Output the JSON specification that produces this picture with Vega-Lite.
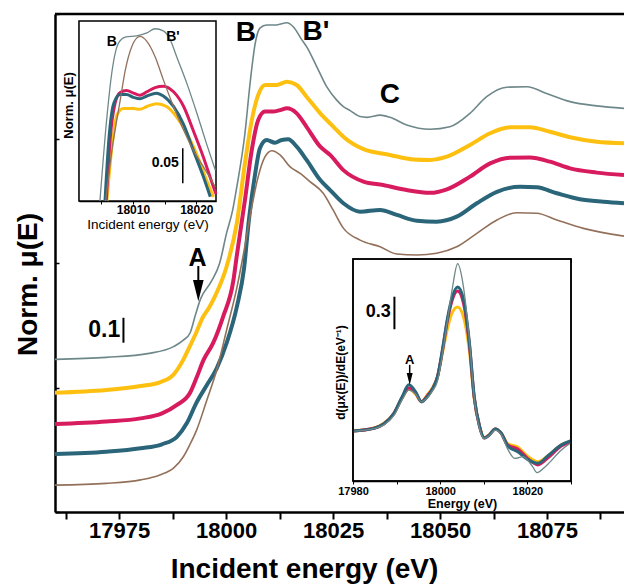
{
  "$schema": "https://vega.github.io/schema/vega-lite/v6.json",
  "width": 569,
  "height": 498,
  "autosize": {"type": "none"},
  "padding": {"left": 55, "top": 14, "right": 0, "bottom": 76},
  "config": {
    "view": {"stroke": null},
    "font": "Liberation Sans",
    "axis": {"grid": false, "zindex": 1, "domainColor": "black", "tickColor": "black", "labelColor": "black", "titleColor": "black", "labelOverlap": false, "labelFlush": false}
  },
  "datasets": {
    "main": [
      {"s":"gray","E":17960,"v":0.613},{"s":"gray","E":17972,"v":0.621},{"s":"gray","E":17982,"v":0.637},{"s":"gray","E":17987.7,"v":0.664},{"s":"gray","E":17990,"v":0.69},{"s":"gray","E":17991.6,"v":0.72},{"s":"gray","E":17992.8,"v":0.79},{"s":"gray","E":17994,"v":0.855},{"s":"gray","E":17996.5,"v":0.925},{"s":"gray","E":17998.5,"v":1.0},{"s":"gray","E":18000.1,"v":1.12},{"s":"gray","E":18001.5,"v":1.21},{"s":"gray","E":18002.5,"v":1.306},{"s":"gray","E":18004.4,"v":1.521},{"s":"gray","E":18005.6,"v":1.722},{"s":"gray","E":18006.8,"v":1.882},{"s":"gray","E":18007.9,"v":1.943},{"s":"gray","E":18009.5,"v":1.956},{"s":"gray","E":18011.8,"v":1.956},{"s":"gray","E":18014.2,"v":1.965},{"s":"gray","E":18015.7,"v":1.949},{"s":"gray","E":18017.7,"v":1.896},{"s":"gray","E":18018.8,"v":1.869},{"s":"gray","E":18021.2,"v":1.788},{"s":"gray","E":18023.5,"v":1.708},{"s":"gray","E":18025.8,"v":1.655},{"s":"gray","E":18027.4,"v":1.628},{"s":"gray","E":18029,"v":1.612},{"s":"gray","E":18031.3,"v":1.588},{"s":"gray","E":18032.9,"v":1.585},{"s":"gray","E":18036,"v":1.594},{"s":"gray","E":18038.3,"v":1.585},{"s":"gray","E":18042.2,"v":1.554},{"s":"gray","E":18047.7,"v":1.537},{"s":"gray","E":18052.3,"v":1.547},{"s":"gray","E":18057,"v":1.601},{"s":"gray","E":18060.9,"v":1.668},{"s":"gray","E":18065.6,"v":1.706},{"s":"gray","E":18070.3,"v":1.708},{"s":"gray","E":18074.9,"v":1.681},{"s":"gray","E":18080.4,"v":1.648},{"s":"gray","E":18086.6,"v":1.631},{"s":"gray","E":18093,"v":1.621},
      {"s":"yellow","E":17960,"v":0.479},{"s":"yellow","E":17972,"v":0.49},{"s":"yellow","E":17980,"v":0.506},{"s":"yellow","E":17984.5,"v":0.521},{"s":"yellow","E":17987.7,"v":0.552},{"s":"yellow","E":17990,"v":0.612},{"s":"yellow","E":17991.5,"v":0.665},{"s":"yellow","E":17993,"v":0.72},{"s":"yellow","E":17994.5,"v":0.78},{"s":"yellow","E":17996,"v":0.82},{"s":"yellow","E":17997.5,"v":0.87},{"s":"yellow","E":18000.1,"v":0.985},{"s":"yellow","E":18002.5,"v":1.16},{"s":"yellow","E":18004.4,"v":1.4},{"s":"yellow","E":18006,"v":1.574},{"s":"yellow","E":18007.5,"v":1.675},{"s":"yellow","E":18009.1,"v":1.715},{"s":"yellow","E":18011.8,"v":1.715},{"s":"yellow","E":18014.2,"v":1.728},{"s":"yellow","E":18016.5,"v":1.715},{"s":"yellow","E":18018.8,"v":1.668},{"s":"yellow","E":18022,"v":1.601},{"s":"yellow","E":18025.1,"v":1.547},{"s":"yellow","E":18027.4,"v":1.507},{"s":"yellow","E":18032.1,"v":1.457},{"s":"yellow","E":18038.3,"v":1.434},{"s":"yellow","E":18043.8,"v":1.416},{"s":"yellow","E":18047.7,"v":1.414},{"s":"yellow","E":18051.6,"v":1.427},{"s":"yellow","E":18057,"v":1.474},{"s":"yellow","E":18061.7,"v":1.521},{"s":"yellow","E":18066.4,"v":1.545},{"s":"yellow","E":18071,"v":1.545},{"s":"yellow","E":18075.7,"v":1.527},{"s":"yellow","E":18080.4,"v":1.505},{"s":"yellow","E":18086.6,"v":1.487},{"s":"yellow","E":18093,"v":1.481},
      {"s":"magenta","E":17960,"v":0.353},{"s":"magenta","E":17972,"v":0.363},{"s":"magenta","E":17980,"v":0.376},{"s":"magenta","E":17985,"v":0.396},{"s":"magenta","E":17988.5,"v":0.43},{"s":"magenta","E":17991.6,"v":0.48},{"s":"magenta","E":17993.1,"v":0.54},{"s":"magenta","E":17994.7,"v":0.61},{"s":"magenta","E":17997,"v":0.68},{"s":"magenta","E":17999.3,"v":0.785},{"s":"magenta","E":18001.7,"v":0.93},{"s":"magenta","E":18002.5,"v":1.03},{"s":"magenta","E":18004.4,"v":1.253},{"s":"magenta","E":18006,"v":1.454},{"s":"magenta","E":18007.5,"v":1.574},{"s":"magenta","E":18009.1,"v":1.608},{"s":"magenta","E":18011,"v":1.608},{"s":"magenta","E":18012.6,"v":1.614},{"s":"magenta","E":18014.2,"v":1.621},{"s":"magenta","E":18016.5,"v":1.601},{"s":"magenta","E":18018.8,"v":1.547},{"s":"magenta","E":18022,"v":1.467},{"s":"magenta","E":18024.3,"v":1.434},{"s":"magenta","E":18027.4,"v":1.373},{"s":"magenta","E":18032.1,"v":1.327},{"s":"magenta","E":18036.7,"v":1.313},{"s":"magenta","E":18042.2,"v":1.293},{"s":"magenta","E":18047.7,"v":1.282},{"s":"magenta","E":18051.6,"v":1.296},{"s":"magenta","E":18057,"v":1.347},{"s":"magenta","E":18061.7,"v":1.4},{"s":"magenta","E":18066.4,"v":1.423},{"s":"magenta","E":18071,"v":1.424},{"s":"magenta","E":18075.7,"v":1.407},{"s":"magenta","E":18080.4,"v":1.38},{"s":"magenta","E":18086.6,"v":1.363},{"s":"magenta","E":18093,"v":1.353},
      {"s":"teal","E":17960,"v":0.233},{"s":"teal","E":17972,"v":0.242},{"s":"teal","E":17980,"v":0.256},{"s":"teal","E":17985,"v":0.272},{"s":"teal","E":17988.5,"v":0.302},{"s":"teal","E":17990.8,"v":0.356},{"s":"teal","E":17993.1,"v":0.44},{"s":"teal","E":17995.5,"v":0.51},{"s":"teal","E":17997.8,"v":0.577},{"s":"teal","E":18000.1,"v":0.678},{"s":"teal","E":18002.5,"v":0.824},{"s":"teal","E":18004.2,"v":0.98},{"s":"teal","E":18005.3,"v":1.17},{"s":"teal","E":18006.8,"v":1.36},{"s":"teal","E":18007.9,"v":1.461},{"s":"teal","E":18009.5,"v":1.494},{"s":"teal","E":18011.4,"v":1.483},{"s":"teal","E":18013,"v":1.494},{"s":"teal","E":18014.5,"v":1.497},{"s":"teal","E":18016.5,"v":1.467},{"s":"teal","E":18018.8,"v":1.414},{"s":"teal","E":18022,"v":1.333},{"s":"teal","E":18024.3,"v":1.293},{"s":"teal","E":18027.4,"v":1.24},{"s":"teal","E":18031.3,"v":1.206},{"s":"teal","E":18036,"v":1.213},{"s":"teal","E":18039.9,"v":1.193},{"s":"teal","E":18044.6,"v":1.17},{"s":"teal","E":18049.2,"v":1.166},{"s":"teal","E":18053.9,"v":1.186},{"s":"teal","E":18058.6,"v":1.24},{"s":"teal","E":18063.3,"v":1.286},{"s":"teal","E":18068.7,"v":1.306},{"s":"teal","E":18072.6,"v":1.304},{"s":"teal","E":18077.3,"v":1.28},{"s":"teal","E":18082.7,"v":1.256},{"s":"teal","E":18088.2,"v":1.246},{"s":"teal","E":18093,"v":1.24},
      {"s":"brown","E":17960,"v":0.108},{"s":"brown","E":17972,"v":0.115},{"s":"brown","E":17980,"v":0.129},{"s":"brown","E":17984.5,"v":0.149},{"s":"brown","E":17987.7,"v":0.176},{"s":"brown","E":17990,"v":0.222},{"s":"brown","E":17991.5,"v":0.27},{"s":"brown","E":17993.1,"v":0.329},{"s":"brown","E":17995.5,"v":0.45},{"s":"brown","E":17997.8,"v":0.57},{"s":"brown","E":18000.1,"v":0.73},{"s":"brown","E":18002.5,"v":0.9},{"s":"brown","E":18004.2,"v":1.05},{"s":"brown","E":18006,"v":1.226},{"s":"brown","E":18007.5,"v":1.347},{"s":"brown","E":18009.1,"v":1.427},{"s":"brown","E":18010.7,"v":1.451},{"s":"brown","E":18012.6,"v":1.434},{"s":"brown","E":18014.9,"v":1.387},{"s":"brown","E":18017.3,"v":1.36},{"s":"brown","E":18019.6,"v":1.327},{"s":"brown","E":18022.7,"v":1.28},{"s":"brown","E":18025,"v":1.213},{"s":"brown","E":18027.4,"v":1.14},{"s":"brown","E":18031.3,"v":1.092},{"s":"brown","E":18036,"v":1.065},{"s":"brown","E":18039.9,"v":1.036},{"s":"brown","E":18044.6,"v":1.032},{"s":"brown","E":18049.2,"v":1.039},{"s":"brown","E":18053.9,"v":1.065},{"s":"brown","E":18058.6,"v":1.119},{"s":"brown","E":18063.3,"v":1.173},{"s":"brown","E":18067.9,"v":1.202},{"s":"brown","E":18072.6,"v":1.2},{"s":"brown","E":18077.3,"v":1.173},{"s":"brown","E":18083.5,"v":1.139},{"s":"brown","E":18093,"v":1.108}
    ],
    "zoom": [
      {"s":"gray","E":18004.8,"v":0},{"s":"gray","E":18005.9,"v":0.12},{"s":"gray","E":18006.7,"v":0.185},{"s":"gray","E":18007.7,"v":0.225},{"s":"gray","E":18008.8,"v":0.234},{"s":"gray","E":18010.6,"v":0.236},{"s":"gray","E":18012.2,"v":0.24},{"s":"gray","E":18013.5,"v":0.246},{"s":"gray","E":18014.8,"v":0.243},{"s":"gray","E":18015.9,"v":0.23},{"s":"gray","E":18016.9,"v":0.206},{"s":"gray","E":18018.5,"v":0.168},{"s":"gray","E":18020.1,"v":0.125},{"s":"gray","E":18021.6,"v":0.082},{"s":"gray","E":18023,"v":0.044},
      {"s":"brown","E":18005.7,"v":0},{"s":"brown","E":18006.7,"v":0.073},{"s":"brown","E":18008,"v":0.144},{"s":"brown","E":18008.8,"v":0.187},{"s":"brown","E":18009.8,"v":0.22},{"s":"brown","E":18011.1,"v":0.235},{"s":"brown","E":18012.2,"v":0.228},{"s":"brown","E":18013.5,"v":0.206},{"s":"brown","E":18014.8,"v":0.173},{"s":"brown","E":18016.4,"v":0.135},{"s":"brown","E":18018,"v":0.101},{"s":"brown","E":18019.5,"v":0.073},{"s":"brown","E":18021.1,"v":0.049},{"s":"brown","E":18023,"v":0.02},
      {"s":"yellow","E":18005.9,"v":0},{"s":"yellow","E":18006.7,"v":0.078},{"s":"yellow","E":18007.5,"v":0.123},{"s":"yellow","E":18008.5,"v":0.132},{"s":"yellow","E":18010.1,"v":0.132},{"s":"yellow","E":18011.1,"v":0.131},{"s":"yellow","E":18012.2,"v":0.135},{"s":"yellow","E":18013.8,"v":0.139},{"s":"yellow","E":18015.3,"v":0.135},{"s":"yellow","E":18016.9,"v":0.12},{"s":"yellow","E":18018.5,"v":0.097},{"s":"yellow","E":18020.1,"v":0.066},{"s":"yellow","E":18021.6,"v":0.03},{"s":"yellow","E":18022.7,"v":0.006},
      {"s":"magenta","E":18005.8,"v":0},{"s":"magenta","E":18006.4,"v":0.087},{"s":"magenta","E":18007.2,"v":0.14},{"s":"magenta","E":18008,"v":0.155},{"s":"magenta","E":18009,"v":0.158},{"s":"magenta","E":18010.1,"v":0.154},{"s":"magenta","E":18011.1,"v":0.151},{"s":"magenta","E":18012.2,"v":0.156},{"s":"magenta","E":18013.5,"v":0.162},{"s":"magenta","E":18014.8,"v":0.164},{"s":"magenta","E":18016.4,"v":0.156},{"s":"magenta","E":18018,"v":0.135},{"s":"magenta","E":18019.5,"v":0.101},{"s":"magenta","E":18021.1,"v":0.063},{"s":"magenta","E":18022.7,"v":0.02},{"s":"magenta","E":18023.1,"v":0.01},
      {"s":"teal","E":18005.6,"v":0},{"s":"teal","E":18006.2,"v":0.087},{"s":"teal","E":18007,"v":0.14},{"s":"teal","E":18008,"v":0.152},{"s":"teal","E":18009,"v":0.152},{"s":"teal","E":18010.1,"v":0.148},{"s":"teal","E":18011.1,"v":0.146},{"s":"teal","E":18012.2,"v":0.15},{"s":"teal","E":18013.7,"v":0.154},{"s":"teal","E":18014.8,"v":0.15},{"s":"teal","E":18016.4,"v":0.135},{"s":"teal","E":18018,"v":0.109},{"s":"teal","E":18019.5,"v":0.073},{"s":"teal","E":18021.1,"v":0.035},{"s":"teal","E":18022.2,"v":0.006}
    ],
    "deriv": [
      {"s":"yellow","E":17980,"v":0.022},{"s":"yellow","E":17984.8,"v":0.05},{"s":"yellow","E":17987.1,"v":0.095},{"s":"yellow","E":17989.4,"v":0.19},{"s":"yellow","E":17991.3,"v":0.34},{"s":"yellow","E":17992.8,"v":0.42},{"s":"yellow","E":17994.4,"v":0.37},{"s":"yellow","E":17995.7,"v":0.3},{"s":"yellow","E":17997.1,"v":0.37},{"s":"yellow","E":17998.2,"v":0.43},{"s":"yellow","E":17999.4,"v":0.54},{"s":"yellow","E":18000.5,"v":0.76},{"s":"yellow","E":18001.7,"v":1.0},{"s":"yellow","E":18002.8,"v":1.15},{"s":"yellow","E":18004,"v":1.2},{"s":"yellow","E":18005.3,"v":1.11},{"s":"yellow","E":18006.7,"v":0.78},{"s":"yellow","E":18007.8,"v":0.33},{"s":"yellow","E":18009,"v":0.07},{"s":"yellow","E":18010.1,"v":-0.04},{"s":"yellow","E":18011.3,"v":-0.01},{"s":"yellow","E":18012.6,"v":0.04},{"s":"yellow","E":18014,"v":0.0},{"s":"yellow","E":18015.5,"v":-0.1},{"s":"yellow","E":18017.8,"v":-0.13},{"s":"yellow","E":18020.1,"v":-0.22},{"s":"yellow","E":18022.4,"v":-0.27},{"s":"yellow","E":18024.8,"v":-0.21},{"s":"yellow","E":18027.8,"v":-0.11},{"s":"yellow","E":18030,"v":-0.075},
      {"s":"magenta","E":17980,"v":0.022},{"s":"magenta","E":17984.8,"v":0.048},{"s":"magenta","E":17987.1,"v":0.09},{"s":"magenta","E":17989.4,"v":0.19},{"s":"magenta","E":17991.3,"v":0.34},{"s":"magenta","E":17992.8,"v":0.43},{"s":"magenta","E":17994.4,"v":0.38},{"s":"magenta","E":17995.7,"v":0.3},{"s":"magenta","E":17997.1,"v":0.36},{"s":"magenta","E":17998.2,"v":0.42},{"s":"magenta","E":17999.4,"v":0.54},{"s":"magenta","E":18000.5,"v":0.78},{"s":"magenta","E":18001.7,"v":1.08},{"s":"magenta","E":18002.8,"v":1.27},{"s":"magenta","E":18004,"v":1.35},{"s":"magenta","E":18005.3,"v":1.24},{"s":"magenta","E":18006.7,"v":0.84},{"s":"magenta","E":18007.8,"v":0.34},{"s":"magenta","E":18009,"v":0.07},{"s":"magenta","E":18010.1,"v":-0.045},{"s":"magenta","E":18011.3,"v":-0.015},{"s":"magenta","E":18012.6,"v":0.04},{"s":"magenta","E":18014,"v":0.0},{"s":"magenta","E":18015.5,"v":-0.11},{"s":"magenta","E":18017.8,"v":-0.15},{"s":"magenta","E":18020.1,"v":-0.24},{"s":"magenta","E":18022.4,"v":-0.3},{"s":"magenta","E":18024.8,"v":-0.23},{"s":"magenta","E":18027.8,"v":-0.12},{"s":"magenta","E":18030,"v":-0.08},
      {"s":"teal","E":17980,"v":0.022},{"s":"teal","E":17984.8,"v":0.047},{"s":"teal","E":17987.1,"v":0.09},{"s":"teal","E":17989.4,"v":0.19},{"s":"teal","E":17991.3,"v":0.35},{"s":"teal","E":17992.8,"v":0.46},{"s":"teal","E":17994.4,"v":0.39},{"s":"teal","E":17995.7,"v":0.3},{"s":"teal","E":17997.1,"v":0.35},{"s":"teal","E":17998.2,"v":0.42},{"s":"teal","E":17999.4,"v":0.54},{"s":"teal","E":18000.5,"v":0.79},{"s":"teal","E":18001.7,"v":1.1},{"s":"teal","E":18002.8,"v":1.3},{"s":"teal","E":18004,"v":1.39},{"s":"teal","E":18005.3,"v":1.28},{"s":"teal","E":18006.7,"v":0.86},{"s":"teal","E":18007.8,"v":0.35},{"s":"teal","E":18009,"v":0.07},{"s":"teal","E":18010.1,"v":-0.045},{"s":"teal","E":18011.3,"v":-0.015},{"s":"teal","E":18012.6,"v":0.04},{"s":"teal","E":18014,"v":0.0},{"s":"teal","E":18015.5,"v":-0.12},{"s":"teal","E":18017.8,"v":-0.175},{"s":"teal","E":18020.1,"v":-0.25},{"s":"teal","E":18022.4,"v":-0.285},{"s":"teal","E":18024.8,"v":-0.21},{"s":"teal","E":18027.8,"v":-0.11},{"s":"teal","E":18030,"v":-0.07},
      {"s":"gray","E":17980,"v":0.02},{"s":"gray","E":17984.8,"v":0.045},{"s":"gray","E":17987.1,"v":0.08},{"s":"gray","E":17989.4,"v":0.17},{"s":"gray","E":17991.3,"v":0.32},{"s":"gray","E":17992.8,"v":0.41},{"s":"gray","E":17994.4,"v":0.37},{"s":"gray","E":17995.7,"v":0.3},{"s":"gray","E":17997.1,"v":0.34},{"s":"gray","E":17998.2,"v":0.4},{"s":"gray","E":17999.4,"v":0.5},{"s":"gray","E":18000.5,"v":0.75},{"s":"gray","E":18001.7,"v":1.08},{"s":"gray","E":18002.8,"v":1.38},{"s":"gray","E":18004,"v":1.61},{"s":"gray","E":18005.3,"v":1.4},{"s":"gray","E":18006.7,"v":0.88},{"s":"gray","E":18007.8,"v":0.34},{"s":"gray","E":18009,"v":0.05},{"s":"gray","E":18010.1,"v":-0.05},{"s":"gray","E":18011.3,"v":-0.02},{"s":"gray","E":18012.6,"v":0.03},{"s":"gray","E":18014,"v":-0.01},{"s":"gray","E":18015.4,"v":-0.143},{"s":"gray","E":18017.1,"v":-0.238},{"s":"gray","E":18019,"v":-0.222},{"s":"gray","E":18021.2,"v":-0.317},{"s":"gray","E":18022.2,"v":-0.374},{"s":"gray","E":18024.1,"v":-0.317},{"s":"gray","E":18027.8,"v":-0.159},{"s":"gray","E":18030,"v":-0.09}
    ]
  },
  "layer": [
    {
      "data": {"name": "main"},
      "layer": [
        {
          "mark": {"type": "line", "interpolate": "monotone", "strokeWidth": 4},
          "transform": [{"filter": "datum.s != 'gray' && datum.s != 'brown'"}],
          "encoding": {
            "x": {"field": "E", "type": "quantitative", "scale": {"domain": [17960, 18093], "nice": false, "zero": false},
              "axis": {"orient": "bottom", "values": [17962.5,17975,17987.5,18000,18012.5,18025,18037.5,18050,18062.5,18075,18087.5], "format": "d", "labelExpr": "datum.value % 25 === 0 ? datum.label : ''", "labelFontSize": 22, "labelFontWeight": "bold", "labelPadding": 1, "tickSize": 7, "tickWidth": 2, "domainWidth": 2.5, "title": "Incident energy (eV)", "titleFontSize": 28, "titleFontWeight": "bold", "titleX": 249, "titleY": 65, "titleAlign": "center", "titleBaseline": "alphabetic"}},
            "y": {"field": "v", "type": "quantitative", "scale": {"domain": [0, 2], "nice": false, "zero": false},
              "axis": {"orient": "left", "values": [0, 0.5, 1, 1.5, 2], "labels": false, "tickSize": -4, "tickWidth": 1.5, "domainWidth": 2.5, "title": "Norm. μ(E)", "titleFontSize": 28, "titleFontWeight": "bold", "titleAngle": 270, "titleX": -27, "titleY": 270, "titleAlign": "center", "titleBaseline": "middle"}},
            "color": {"field": "s", "type": "nominal", "scale": {"domain": ["gray", "yellow", "magenta", "teal", "brown"], "range": ["#6E8789", "#FDC010", "#D81B5E", "#2A6579", "#93705A"]}, "legend": null}
          }
        },
        {
          "mark": {"type": "line", "interpolate": "monotone", "strokeWidth": 1.6},
          "transform": [{"filter": "datum.s == 'gray' || datum.s == 'brown'"}],
          "encoding": {
            "x": {"field": "E", "type": "quantitative"},
            "y": {"field": "v", "type": "quantitative"},
            "color": {"field": "s", "type": "nominal", "legend": null}
          }
        },
        {"data": {"values": [{}]}, "mark": {"type": "rule", "strokeWidth": 2.5, "color": "black"}, "encoding": {"y": {"datum": 2}}},
        {"data": {"values": [{}]}, "mark": {"type": "text", "fontSize": 28, "fontWeight": "bold", "baseline": "middle", "align": "center", "color": "black"}, "encoding": {"x": {"datum": 18004.6}, "y": {"datum": 1.922}, "text": {"value": "B"}}},
        {"data": {"values": [{}]}, "mark": {"type": "text", "fontSize": 28, "fontWeight": "bold", "baseline": "middle", "align": "center", "color": "black"}, "encoding": {"x": {"datum": 18021.0}, "y": {"datum": 1.929}, "text": {"value": "B'"}}},
        {"data": {"values": [{}]}, "mark": {"type": "text", "fontSize": 28, "fontWeight": "bold", "baseline": "middle", "align": "center", "color": "black"}, "encoding": {"x": {"datum": 18038.3}, "y": {"datum": 1.673}, "text": {"value": "C"}}},
        {"data": {"values": [{}]}, "mark": {"type": "text", "fontSize": 25, "fontWeight": "bold", "baseline": "middle", "align": "center", "color": "black"}, "encoding": {"x": {"datum": 17993.3}, "y": {"datum": 1.02}, "text": {"value": "A"}}},
        {"data": {"values": [{}]}, "mark": {"type": "rule", "strokeWidth": 2, "color": "black"}, "encoding": {"x": {"datum": 17993.5}, "y": {"datum": 0.988}, "y2": {"datum": 0.9}}},
        {"data": {"values": [{}]}, "mark": {"type": "point", "shape": "M-0.5,-1L0.5,-1L0,1Z", "filled": true, "color": "black", "size": 450, "opacity": 1}, "encoding": {"x": {"datum": 17993.5}, "y": {"datum": 0.889}}},
        {"data": {"values": [{}]}, "mark": {"type": "text", "fontSize": 23, "fontWeight": "bold", "baseline": "middle", "align": "center", "color": "black"}, "encoding": {"x": {"datum": 17971.5}, "y": {"datum": 0.731}, "text": {"value": "0.1"}}},
        {"data": {"values": [{}]}, "mark": {"type": "rule", "strokeWidth": 2, "color": "black"}, "encoding": {"x": {"datum": 17976.0}, "y": {"datum": 0.78}, "y2": {"datum": 0.68}}}
      ]
    },
    {
      "data": {"name": "zoom"},
      "layer": [
        {"data": {"values": [{}]}, "mark": {"type": "rect", "fill": "white", "stroke": "black", "strokeWidth": 1.5}, "encoding": {"x": {"datum": 18001.5, "type": "quantitative"}, "x2": {"datum": 18023.1}, "y": {"datum": 0, "type": "quantitative"}, "y2": {"datum": 0.2571}}},
        {
          "mark": {"type": "line", "interpolate": "monotone", "strokeWidth": 3},
          "transform": [{"filter": "datum.s != 'gray' && datum.s != 'brown'"}],
          "encoding": {
            "x": {"field": "E", "type": "quantitative", "scale": {"domain": [18001.5, 18023.1], "range": [24, 161], "nice": false, "zero": false},
              "axis": {"orient": "bottom", "offset": -311, "values": [18005, 18010, 18015, 18020], "format": "d", "labelExpr": "datum.value % 10 === 0 ? datum.label : ''", "labelFontSize": 12, "labelFontWeight": "bold", "labelPadding": 0, "tickSize": 3, "tickWidth": 1, "domainWidth": 1.5, "title": "Incident energy (eV)", "titleFontSize": 13.5, "titleFontWeight": "normal", "titleY": 23, "titleBaseline": "middle"}},
            "y": {"field": "v", "type": "quantitative", "scale": {"domain": [0, 0.2571], "range": [187, 7], "nice": false, "zero": false},
              "axis": {"orient": "left", "offset": -24, "values": [0.04, 0.08, 0.12, 0.16, 0.2, 0.24], "labels": false, "tickSize": -3, "tickWidth": 1, "domainWidth": 1.5, "title": "Norm. μ(E)", "titleFontSize": 13, "titleFontWeight": "bold", "titleAngle": 270, "titleX": -11, "titleY": 91, "titleAlign": "center", "titleBaseline": "middle"}},
            "color": {"field": "s", "type": "nominal", "legend": null}
          }
        },
        {
          "mark": {"type": "line", "interpolate": "monotone", "strokeWidth": 1.3},
          "transform": [{"filter": "datum.s == 'gray' || datum.s == 'brown'"}],
          "encoding": {
            "x": {"field": "E", "type": "quantitative"},
            "y": {"field": "v", "type": "quantitative"},
            "color": {"field": "s", "type": "nominal", "legend": null}
          }
        },
        {"data": {"values": [{}]}, "mark": {"type": "text", "fontSize": 14, "fontWeight": "bold", "baseline": "middle", "align": "center", "color": "black"}, "encoding": {"x": {"datum": 18006.66}, "y": {"datum": 0.2276}, "text": {"value": "B"}}},
        {"data": {"values": [{}]}, "mark": {"type": "text", "fontSize": 14, "fontWeight": "bold", "baseline": "middle", "align": "center", "color": "black"}, "encoding": {"x": {"datum": 18016.3}, "y": {"datum": 0.2347}, "text": {"value": "B'"}}},
        {"data": {"values": [{}]}, "mark": {"type": "text", "fontSize": 14, "fontWeight": "bold", "baseline": "middle", "align": "center", "color": "black"}, "encoding": {"x": {"datum": 18015.1}, "y": {"datum": 0.0539}, "text": {"value": "0.05"}}},
        {"data": {"values": [{}]}, "mark": {"type": "rule", "strokeWidth": 1.5, "color": "black"}, "encoding": {"x": {"datum": 18017.86}, "y": {"datum": 0.0753}, "y2": {"datum": 0.0253}}}
      ]
    },
    {
      "data": {"name": "deriv"},
      "layer": [
        {"data": {"values": [{}]}, "mark": {"type": "rect", "fill": "white", "stroke": "black", "strokeWidth": 1.5}, "encoding": {"x": {"datum": 17980, "type": "quantitative"}, "x2": {"datum": 18030}, "y": {"datum": -0.453, "type": "quantitative"}, "y2": {"datum": 1.655}}},
        {
          "mark": {"type": "line", "interpolate": "monotone", "strokeWidth": 3},
          "transform": [{"filter": "datum.s != 'gray'"}],
          "encoding": {
            "x": {"field": "E", "type": "quantitative", "scale": {"domain": [17980, 18030], "range": [298, 516], "nice": false, "zero": false},
              "axis": {"orient": "bottom", "offset": -31, "values": [17980, 17990, 18000, 18010, 18020, 18030], "format": "d", "labelExpr": "datum.value % 20 === 0 ? datum.label : ''", "labelFontSize": 11, "labelFontWeight": "bold", "labelPadding": 1, "tickSize": 3, "tickWidth": 1, "domainWidth": 1.5, "title": "Energy (eV)", "titleFontSize": 12.5, "titleFontWeight": "bold", "titleY": 22, "titleBaseline": "middle"}},
            "y": {"field": "v", "type": "quantitative", "scale": {"domain": [-0.453, 1.655], "range": [467, 245], "nice": false, "zero": false},
              "axis": {"orient": "left", "offset": -298, "values": [-0.3, 0, 0.3, 0.6, 0.9, 1.2, 1.5], "labels": false, "tickSize": -3, "tickWidth": 1, "domainWidth": 1.5, "title": "d(μx(E))/dE(eV⁻¹)", "titleFontSize": 12, "titleFontWeight": "bold", "titleAngle": 270, "titleX": -13, "titleY": 358, "titleAlign": "center", "titleBaseline": "middle"}},
            "color": {"field": "s", "type": "nominal", "legend": null}
          }
        },
        {
          "mark": {"type": "line", "interpolate": "monotone", "strokeWidth": 1.3},
          "transform": [{"filter": "datum.s == 'gray'"}],
          "encoding": {
            "x": {"field": "E", "type": "quantitative"},
            "y": {"field": "v", "type": "quantitative"},
            "color": {"field": "s", "type": "nominal", "legend": null}
          }
        },
        {"data": {"values": [{}]}, "mark": {"type": "text", "fontSize": 18, "fontWeight": "bold", "baseline": "middle", "align": "center", "color": "black"}, "encoding": {"x": {"datum": 17985.8}, "y": {"datum": 1.155}, "text": {"value": "0.3"}}},
        {"data": {"values": [{}]}, "mark": {"type": "rule", "strokeWidth": 2, "color": "black"}, "encoding": {"x": {"datum": 17989.5}, "y": {"datum": 1.297}, "y2": {"datum": 0.988}}},
        {"data": {"values": [{}]}, "mark": {"type": "text", "fontSize": 13, "fontWeight": "bold", "baseline": "middle", "align": "center", "color": "black"}, "encoding": {"x": {"datum": 17993.0}, "y": {"datum": 0.696}, "text": {"value": "A"}}},
        {"data": {"values": [{}]}, "mark": {"type": "rule", "strokeWidth": 1.5, "color": "black"}, "encoding": {"x": {"datum": 17993.0}, "y": {"datum": 0.65}, "y2": {"datum": 0.55}}},
        {"data": {"values": [{}]}, "mark": {"type": "point", "shape": "M-0.5,-1L0.5,-1L0,1Z", "filled": true, "color": "black", "size": 144, "opacity": 1}, "encoding": {"x": {"datum": 17993.0}, "y": {"datum": 0.516}}}
      ]
    },
    {
      "data": {"values": [{}]},
      "mark": {"type": "rect", "fillOpacity": 0, "stroke": "black", "strokeWidth": 1.5},
      "encoding": {
        "x": {"datum": 17980, "type": "quantitative", "scale": {"domain": [17980, 18030], "range": [298, 516], "nice": false, "zero": false},
          "axis": {"orient": "top", "offset": -245, "values": [17980, 17990, 18000, 18010, 18020, 18030], "labels": false, "domain": false, "tickSize": -3, "tickWidth": 1, "title": null}},
        "x2": {"datum": 18030},
        "y": {"datum": -0.453, "type": "quantitative", "scale": {"domain": [-0.453, 1.655], "range": [467, 245], "nice": false, "zero": false},
          "axis": {"orient": "right", "offset": -53, "values": [-0.3, 0, 0.3, 0.6, 0.9, 1.2, 1.5], "labels": false, "domain": false, "tickSize": -3, "tickWidth": 1, "title": null}},
        "y2": {"datum": 1.655}
      }
    }
  ],
  "resolve": {"scale": {"x": "independent", "y": "independent"}, "axis": {"x": "independent", "y": "independent"}}
}
